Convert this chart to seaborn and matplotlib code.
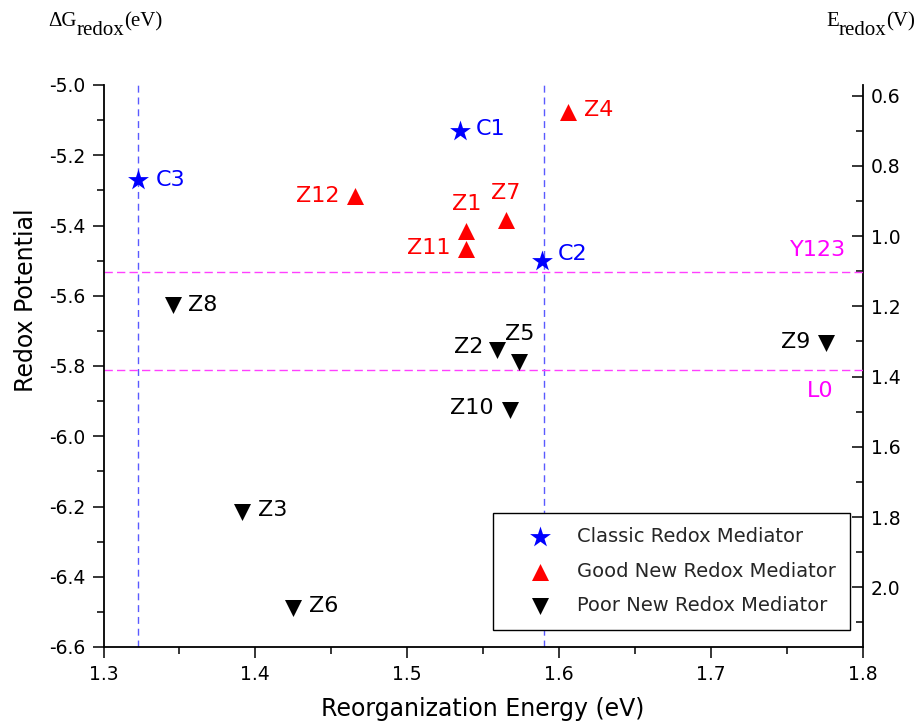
import matplotlib
matplotlib.use("Agg")
import matplotlib.pyplot as plt
import seaborn as sns
import pandas as pd
from matplotlib.ticker import MultipleLocator

# ---------------- data ----------------
classic_names = ["C1", "C2", "C3"]
classic_x = [1.535, 1.589, 1.323]
classic_y = [-5.130, -5.500, -5.270]

good_names = ["Z1", "Z4", "Z7", "Z11", "Z12"]
good_x = [1.539, 1.606, 1.565, 1.539, 1.466]
good_y = [-5.416, -5.076, -5.384, -5.467, -5.316]

poor_names = ["Z2", "Z3", "Z5", "Z6", "Z8", "Z9", "Z10"]
poor_x = [1.559, 1.391, 1.574, 1.425, 1.346, 1.776, 1.568]
poor_y = [-5.754, -6.217, -5.788, -6.488, -5.627, -5.735, -5.925]

vline_x = [1.323, 1.590]
hline_y = [-5.532, -5.811]
hline_names = ["Y123", "L0"]

legend_labels = ["Classic Redox Mediator", "Good New Redox Mediator", "Poor New Redox Mediator"]
x_ticks = [1.3, 1.4, 1.5, 1.6, 1.7, 1.8]
y_ticks = [-5.0, -5.2, -5.4, -5.6, -5.8, -6.0, -6.2, -6.4, -6.6]
e_ticks = [0.6, 0.8, 1.0, 1.2, 1.4, 1.6, 1.8, 2.0]
E_OFFSET = 4.43

# label placement (pixel offsets from marker)
label_offsets = {
    "C1": (16, 2, "left"), "C2": (16, 7, "left"), "C3": (17, 0, "left"),
    "Z1": (0, 27, "center"), "Z4": (16, 2, "left"), "Z7": (0, 27, "center"),
    "Z11": (-16, 1, "right"), "Z12": (-16, 0, "right"),
    "Z2": (-13, 3, "right"), "Z3": (16, 2, "left"), "Z5": (0, 28, "center"),
    "Z6": (16, 2, "left"), "Z8": (15, 0, "left"), "Z9": (-16, 1, "right"),
    "Z10": (-17, 2, "right"),
}

sns.set_style("white")
plt.rcParams["font.family"] = ["DejaVu Sans"]

fig = plt.figure(figsize=(9.22, 7.24), dpi=100)
ax = fig.add_axes([103.5 / 922, 1 - 647 / 724, 759 / 922, 562 / 724])

df_c = pd.DataFrame({"x": classic_x, "y": classic_y, "name": classic_names})
df_g = pd.DataFrame({"x": good_x, "y": good_y, "name": good_names})
df_p = pd.DataFrame({"x": poor_x, "y": poor_y, "name": poor_names})

# reference lines
for xv in vline_x:
    ax.axvline(xv, color="#5a5aff", lw=1.0, ls=(0, (5, 3.5)), zorder=1)
for yv in hline_y:
    ax.axhline(yv, color="#ff40ff", lw=1.0, ls=(0, (6, 3)), zorder=1)

sns.scatterplot(data=df_c, x="x", y="y", marker="*", s=250, color="#0000ff",
                linewidth=0, label=legend_labels[0], ax=ax, zorder=3)
sns.scatterplot(data=df_g, x="x", y="y", marker="^", s=150, color="#ff0000",
                linewidth=0, label=legend_labels[1], ax=ax, zorder=3)
sns.scatterplot(data=df_p, x="x", y="y", marker="v", s=150, color="#000000",
                linewidth=0, label=legend_labels[2], ax=ax, zorder=3)

for df, col in ((df_c, "#0000ff"), (df_g, "#ff0000"), (df_p, "#000000")):
    for _, r in df.iterrows():
        dx, dy, ha = label_offsets[r["name"]]
        ax.annotate(r["name"], (r["x"], r["y"]), xytext=(dx, dy),
                    textcoords="offset pixels", ha=ha, va="center",
                    fontsize=16, color=col)

# reference line labels
ax.text(1.789, -5.470, hline_names[0], color="#ff00ff", fontsize=16,
        ha="right", va="center")
ax.text(1.781, -5.870, hline_names[1], color="#ff00ff", fontsize=16,
        ha="right", va="center")

ax.set_xlim(1.3, 1.8)
ax.set_ylim(-6.6, -5.0)
ax.set_xticks(x_ticks)
ax.set_xticklabels([f"{v:.1f}" for v in x_ticks])
ax.set_yticks(y_ticks)
ax.set_yticklabels([f"{v:.1f}" for v in y_ticks])
ax.xaxis.set_minor_locator(MultipleLocator(0.05))
ax.yaxis.set_minor_locator(MultipleLocator(0.1))
ax.tick_params(axis="both", which="major", direction="out", length=8, width=1.1,
               labelsize=13.5, color="black", labelcolor="black", pad=5)
ax.tick_params(axis="both", which="minor", direction="out", length=5, width=1.1,
               color="black")
ax.tick_params(axis="x", which="both", bottom=True, top=False)
ax.tick_params(axis="y", which="both", left=True, right=False)

for side in ("top", "right"):
    ax.spines[side].set_visible(False)
for side in ("left", "bottom"):
    ax.spines[side].set_color("black")
    ax.spines[side].set_linewidth(1.3)

ax.set_xlabel("Reorganization Energy (eV)", fontsize=17, color="black")
ax.set_ylabel("Redox Potential", fontsize=17, color="black")
ax.xaxis.set_label_coords(0.5, -0.089)
ax.yaxis.set_label_coords(-0.086, 0.617)

# secondary right axis: E_redox = -dG - offset
sec = ax.secondary_yaxis("right", functions=(lambda g: -g - E_OFFSET,
                                             lambda e: -e - E_OFFSET))
sec.set_yticks(e_ticks)
sec.set_yticklabels([f"{v:.1f}" for v in e_ticks])
sec.yaxis.set_minor_locator(MultipleLocator(0.1))
sec.tick_params(axis="y", which="major", direction="in", length=8, width=1.1,
                labelsize=13.5, color="black", labelcolor="black", pad=6)
sec.tick_params(axis="y", which="minor", direction="in", length=5, width=1.1,
                color="black")
sec.spines["right"].set_color("black")
sec.spines["right"].set_linewidth(1.3)

# corner labels composed piecewise (main text, lowered subscript, unit)
renderer = fig.canvas.get_renderer()


def compose(x_px, base_px, pieces):
    x = x_px
    for txt, size, drop in pieces:
        t = fig.text(x / 922, 1 - (base_px + drop) / 724, txt, fontsize=size,
                     family="Liberation Serif", ha="left", va="baseline",
                     color="black")
        x += t.get_window_extent(renderer=renderer).width


compose(48, 26, [("\u0394G", 15, 0), ("redox", 15, 9), ("(eV)", 15, 0)])
compose(826, 26, [("E", 15, 0), ("redox", 15, 9), ("(V)", 15, 0)])

leg = ax.legend(loc="lower left", bbox_to_anchor=(0.5132, 0.0302, 0.4704, 0.199),
                mode="expand", borderaxespad=0, frameon=True, fancybox=False,
                fontsize=14, handlelength=3.3, handletextpad=0.25, borderpad=0.75,
                labelspacing=0.8, scatterpoints=1)
leg.get_frame().set_edgecolor("black")
leg.get_frame().set_linewidth(1.0)
leg.get_frame().set_facecolor("white")
leg.get_frame().set_alpha(1)

fig.savefig("out.png", dpi=100)
